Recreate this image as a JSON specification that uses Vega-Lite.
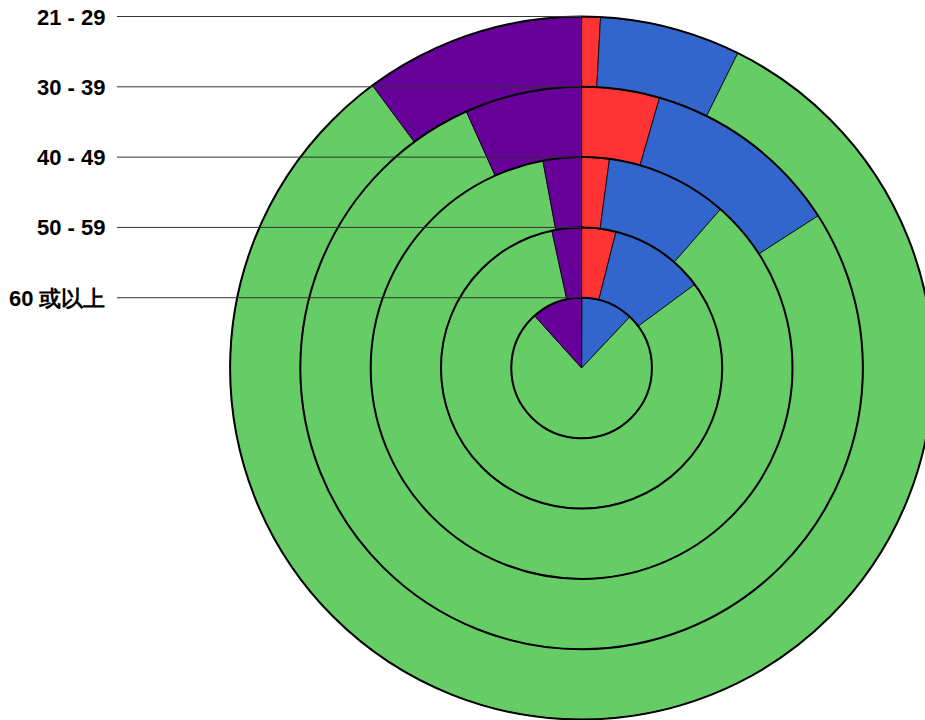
{
  "$schema": "https://vega.github.io/schema/vega-lite/v6.json",
  "width": 808,
  "height": 720,
  "autosize": {"type": "none"},
  "padding": {"left": 117, "top": 0, "right": 0, "bottom": 0},
  "background": "white",
  "config": {"view": {"stroke": null}},
  "datasets": {
    "segments": [
      {"age": "21 - 29", "ring": 5, "cat": "A", "order": 1, "pct": 0.86},
      {"age": "21 - 29", "ring": 5, "cat": "B", "order": 2, "pct": 6.47},
      {"age": "21 - 29", "ring": 5, "cat": "C", "order": 3, "pct": 82.53},
      {"age": "21 - 29", "ring": 5, "cat": "D", "order": 4, "pct": 10.14},
      {"age": "30 - 39", "ring": 4, "cat": "A", "order": 1, "pct": 4.47},
      {"age": "30 - 39", "ring": 4, "cat": "B", "order": 2, "pct": 11.43},
      {"age": "30 - 39", "ring": 4, "cat": "C", "order": 3, "pct": 77.38},
      {"age": "30 - 39", "ring": 4, "cat": "D", "order": 4, "pct": 6.72},
      {"age": "40 - 49", "ring": 3, "cat": "A", "order": 1, "pct": 2.11},
      {"age": "40 - 49", "ring": 3, "cat": "B", "order": 2, "pct": 9.33},
      {"age": "40 - 49", "ring": 3, "cat": "C", "order": 3, "pct": 85.62},
      {"age": "40 - 49", "ring": 3, "cat": "D", "order": 4, "pct": 2.94},
      {"age": "50 - 59", "ring": 2, "cat": "A", "order": 1, "pct": 3.94},
      {"age": "50 - 59", "ring": 2, "cat": "B", "order": 2, "pct": 10.94},
      {"age": "50 - 59", "ring": 2, "cat": "C", "order": 3, "pct": 81.73},
      {"age": "50 - 59", "ring": 2, "cat": "D", "order": 4, "pct": 3.39},
      {"age": "60 或以上", "ring": 1, "cat": "A", "order": 1, "pct": 0.1},
      {"age": "60 或以上", "ring": 1, "cat": "B", "order": 2, "pct": 11.94},
      {"age": "60 或以上", "ring": 1, "cat": "C", "order": 3, "pct": 76.29},
      {"age": "60 或以上", "ring": 1, "cat": "D", "order": 4, "pct": 11.67}
    ],
    "rings": [
      {"age": "21 - 29", "ring": 5},
      {"age": "30 - 39", "ring": 4},
      {"age": "40 - 49", "ring": 3},
      {"age": "50 - 59", "ring": 2},
      {"age": "60 或以上", "ring": 1}
    ]
  },
  "layer": [
    {
      "data": {"name": "segments"},
      "transform": [
        {"stack": "pct", "groupby": ["age"], "sort": [{"field": "order", "order": "ascending"}], "offset": "normalize", "as": ["t0", "t1"]}
      ],
      "mark": {"type": "arc", "stroke": "#000000", "strokeWidth": 0.8},
      "encoding": {
        "x": {"datum": 0, "type": "quantitative", "scale": {"domain": [-6.609, 4.885], "nice": false, "zero": false}, "axis": null},
        "y": {"datum": 0, "type": "quantitative", "scale": {"domain": [-5.007, 5.235], "nice": false, "zero": false}, "axis": null},
        "theta": {"field": "t0", "type": "quantitative", "scale": {"domain": [0, 1]}},
        "theta2": {"field": "t1"},
        "radius": {"field": "ring", "type": "quantitative", "stack": null, "scale": {"type": "linear", "domain": [0, 5], "range": [0, 351.5], "zero": true}},
        "color": {"field": "cat", "type": "nominal", "scale": {"domain": ["A", "B", "C", "D"], "range": ["#FF3333", "#3366CC", "#66CC66", "#660099"]}, "legend": null},
        "order": {"field": "ring", "type": "quantitative", "sort": "descending"}
      }
    },
    {
      "data": {"name": "rings"},
      "mark": {"type": "arc", "theta": 0, "theta2": 6.2832, "fillOpacity": 0, "fill": "white", "stroke": "#000000", "strokeWidth": 2},
      "encoding": {
        "x": {"datum": 0, "type": "quantitative", "scale": {"domain": [-6.609, 4.885], "nice": false, "zero": false}, "axis": null},
        "y": {"datum": 0, "type": "quantitative", "scale": {"domain": [-5.007, 5.235], "nice": false, "zero": false}, "axis": null},
        "radius": {"field": "ring", "type": "quantitative", "stack": null, "scale": {"type": "linear", "domain": [0, 5], "range": [0, 351.5], "zero": true}}
      }
    },
    {
      "data": {"name": "rings"},
      "mark": {"type": "rule", "stroke": "#333333", "strokeWidth": 1},
      "encoding": {
        "x": {"datum": -6.609, "type": "quantitative"},
        "x2": {"datum": 0},
        "y": {"field": "ring", "type": "quantitative"}
      }
    },
    {
      "data": {"name": "rings"},
      "mark": {"type": "text", "align": "right", "baseline": "middle", "dx": -11.5, "dy": 1, "font": "Liberation Sans", "fontWeight": "bold", "fontSize": 22, "color": "#000000"},
      "encoding": {
        "x": {"datum": -6.609, "type": "quantitative"},
        "y": {"field": "ring", "type": "quantitative"},
        "text": {"field": "age", "type": "nominal"}
      }
    }
  ]
}
